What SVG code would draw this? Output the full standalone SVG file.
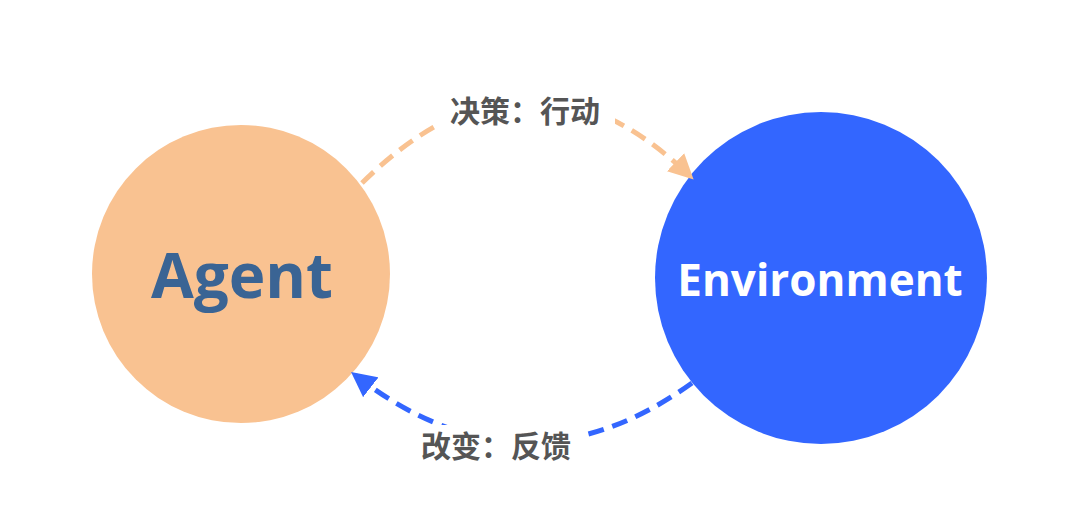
<svg xmlns="http://www.w3.org/2000/svg" width="1073" height="524" viewBox="0 0 1073 524">
<style>
.lbl{font-family:"Noto Sans CJK SC","Liberation Sans",sans-serif;font-weight:bold;font-size:30px;fill:#555;text-anchor:middle}
.node{font-family:"Open Sans","Liberation Sans",sans-serif;font-weight:bold;text-anchor:middle}
</style>
<defs>
<marker id="ao" viewBox="0 0 10 10" refX="8" refY="5" markerWidth="5" markerHeight="5" orient="auto" markerUnits="strokeWidth"><path d="M0,0L10,5L0,10z" fill="#F9C291"/></marker>
<marker id="ab" viewBox="0 0 10 10" refX="8" refY="5" markerWidth="5" markerHeight="5" orient="auto" markerUnits="strokeWidth"><path d="M0,0L10,5L0,10z" fill="#3366FF"/></marker>
</defs>
<rect width="1073" height="524" fill="#fff"/>
<g id="agent"><circle cx="241" cy="274" r="149" fill="#F9C291"/><text class="node" x="242" y="298" font-size="62" fill="#3A6494">Agent</text></g>
<g id="environment"><circle cx="821" cy="278" r="166" fill="#3366FF"/><text class="node" x="820" y="296" font-size="44" fill="#fff">Environment</text></g>
<g id="connectors" fill="none" stroke-width="5" stroke-dasharray="16 9">
<path d="M362,183 Q527,20 690,176" stroke="#F9C291" marker-end="url(#ao)"/>
<path d="M692,383 Q522,505 355,375" stroke="#3366FF" marker-end="url(#ab)"/>
<rect x="435" y="90" width="180" height="40" fill="#fff" stroke="none"/>
<rect x="405" y="425" width="180" height="42" fill="#fff" stroke="none"/>
<text class="lbl" x="525" y="122">决策：行动</text>
<text class="lbl" x="496" y="457">改变：反馈</text>
</g>
</svg>
